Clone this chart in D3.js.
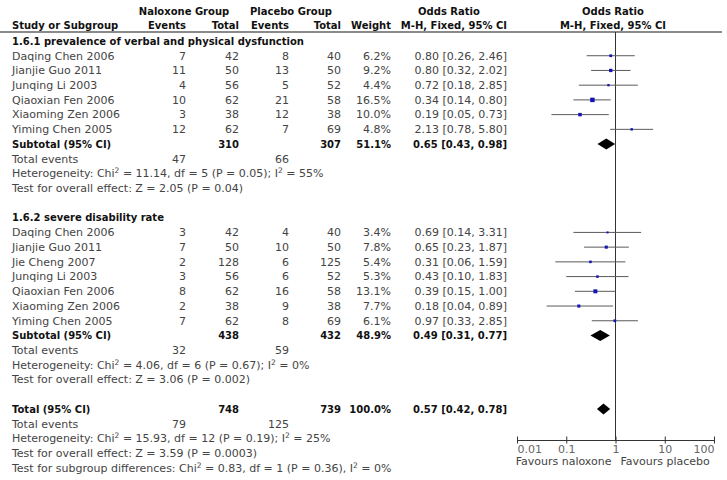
<!DOCTYPE html>
<html><head><meta charset="utf-8">
<script src="https://cdn.jsdelivr.net/npm/d3@7"></script>
<style>
body{margin:0;background:#fff;}
svg text{font-family:"DejaVu Sans",Verdana,sans-serif;font-size:11px;fill:#444;}
svg text.b{font-weight:bold;fill:#111;font-size:10px;}
svg .tick text{fill:#666;}
</style></head>
<body><svg id="c" width="727" height="480"></svg>
<script>
// ---- data ----
const g1Studies = ["Daqing Chen 2006","Jianjie Guo 2011","Junqing Li 2003","Qiaoxian Fen 2006","Xiaoming Zen 2006","Yiming Chen 2005"];
const g1EventsNal = [7,11,4,10,3,12];
const g1TotalNal = [42,50,56,62,38,62];
const g1EventsPla = [8,13,5,21,12,7];
const g1TotalPla = [40,50,52,58,38,69];
const g1Weight = [6.2,9.2,4.4,16.5,10.0,4.8];
const g1OR = [0.80,0.80,0.72,0.34,0.19,2.13];
const g1Lo = [0.26,0.32,0.18,0.14,0.05,0.78];
const g1Hi = [2.46,2.02,2.85,0.80,0.73,5.80];

const g2Studies = ["Daqing Chen 2006","Jianjie Guo 2011","Jie Cheng 2007","Junqing Li 2003","Qiaoxian Fen 2006","Xiaoming Zen 2006","Yiming Chen 2005"];
const g2EventsNal = [3,7,2,3,8,2,7];
const g2TotalNal = [42,50,128,56,62,38,62];
const g2EventsPla = [4,10,6,6,16,9,8];
const g2TotalPla = [40,50,125,52,58,38,69];
const g2Weight = [3.4,7.8,5.4,5.3,13.1,7.7,6.1];
const g2OR = [0.69,0.65,0.31,0.43,0.39,0.18,0.97];
const g2Lo = [0.14,0.23,0.06,0.10,0.15,0.04,0.33];
const g2Hi = [3.31,1.87,1.59,1.83,1.00,0.89,2.85];

const groupTitles = ["1.6.1 prevalence of verbal and physical dysfunction","1.6.2 severe disability rate"];
const subtotalTotalNal = [310,438];
const subtotalTotalPla = [307,432];
const subtotalWeight = [51.1,48.9];
const subtotalOR = [0.65,0.49];
const subtotalLo = [0.43,0.31];
const subtotalHi = [0.98,0.77];
const subtotalEventsNal = [47,32];
const subtotalEventsPla = [66,59];
const subtotalHet = [["11.14","5","0.05","55%"],["4.06","6","0.67","0%"]];
const subtotalTest = [["2.05","0.04"],["3.06","0.002"]];

const totalN = [748,739];
const totalWeight = 100.0;
const totalOR = [0.57,0.42,0.78];
const totalEvents = [79,125];
const totalHet = ["15.93","12","0.19","25%"];
const totalTest = ["3.59","0.0003"];
const subgroupDiff = ["0.83","1","0.36","0%"];

const axisTicks = [0.01,0.1,1,10,100];
const tickLabels = ["0.01","0.1","1","10","100"];
const favourLabels = ["Favours naloxone","Favours placebo"];

// ---- layout ----
const svg = d3.select("#c");
svg.append("rect").attr("width",727).attr("height",480).attr("fill","#fff");
const x = d3.scaleLog().domain([0.01,100]).range([517,714]);
const rowY = d3.scaleLinear().domain([0,29]).range([41,468]);
const col = {name:12, en:186, tn:239, ep:289, tp:341, w:391, ci:507};
const f2 = d3.format(".2f"), f1 = d3.format(".1f");
const BL = 3.8;

function txt(xp, yp, s, anchor, cls){
  const t = svg.append("text").attr("x",xp).attr("y",yp+BL).attr("text-anchor",anchor||"start");
  if(cls) t.attr("class",cls);
  t.text(s);
  return t;
}
function rich(xp, yp, parts){
  const t = svg.append("text").attr("x",xp).attr("y",yp+BL);
  parts.forEach(p=>{
    const ts=t.append("tspan").text(p[0]);
    if(p[1]) ts.attr("baseline-shift","super").attr("font-size","7.5px");
  });
}

// header
txt(184,11,"Naloxone Group","middle","b");
txt(291,11,"Placebo Group","middle","b");
txt(449,11,"Odds Ratio","middle","b");
txt(613,11,"Odds Ratio","middle","b");
txt(col.name,25,"Study or Subgroup","start","b");
txt(col.en,25,"Events","end","b");
txt(col.tn,25,"Total","end","b");
txt(col.ep,25,"Events","end","b");
txt(col.tp,25,"Total","end","b");
txt(col.w,25,"Weight","end","b");
txt(col.ci,25,"M-H, Fixed, 95% CI","end","b");
txt(613,25,"M-H, Fixed, 95% CI","middle","b");
svg.append("line").attr("x1",0).attr("x2",722).attr("y1",32).attr("y2",32)
  .attr("stroke","#8a8a8a").attr("stroke-width",2);

// reference line
svg.append("line").attr("x1",x(1)).attr("x2",x(1)).attr("y1",32).attr("y2",440)
  .attr("stroke","#333").attr("stroke-width",1);

function diamond(yc, or, lo, hi){
  const h=5.5;
  svg.append("path").attr("d",`M${x(lo)},${yc} L${x(or)},${yc-h} L${x(hi)},${yc} L${x(or)},${yc+h} Z`)
    .attr("fill","#000");
}

const groups = [
  {names:g1Studies,en:g1EventsNal,tn:g1TotalNal,ep:g1EventsPla,tp:g1TotalPla,w:g1Weight,or:g1OR,lo:g1Lo,hi:g1Hi,start:0},
  {names:g2Studies,en:g2EventsNal,tn:g2TotalNal,ep:g2EventsPla,tp:g2TotalPla,w:g2Weight,or:g2OR,lo:g2Lo,hi:g2Hi,start:12}
];
groups.forEach((g,gi)=>{
  txt(col.name,rowY(g.start),groupTitles[gi],"start","b");
  g.names.forEach((n,i)=>{
    const y=rowY(g.start+1+i);
    txt(col.name,y,n);
    txt(col.en,y,g.en[i],"end");
    txt(col.tn,y,g.tn[i],"end");
    txt(col.ep,y,g.ep[i],"end");
    txt(col.tp,y,g.tp[i],"end");
    txt(col.w,y,f1(g.w[i])+"%","end");
    txt(col.ci,y,`${f2(g.or[i])} [${f2(g.lo[i])}, ${f2(g.hi[i])}]`,"end");
    svg.append("line").attr("x1",x(g.lo[i])).attr("x2",x(g.hi[i])).attr("y1",y).attr("y2",y)
      .attr("stroke","#5a5a5a").attr("stroke-width",1);
    const s=Math.sqrt(g.w[i])*1.1;
    svg.append("rect").attr("x",x(g.or[i])-s/2).attr("y",y-s/2).attr("width",s).attr("height",s)
      .attr("fill","#1414b4");
  });
  const k=g.start+1+g.names.length;
  const ys=rowY(k);
  txt(col.name,ys,"Subtotal (95% CI)","start","b");
  txt(col.tn,ys,subtotalTotalNal[gi],"end","b");
  txt(col.tp,ys,subtotalTotalPla[gi],"end","b");
  txt(col.w,ys,f1(subtotalWeight[gi])+"%","end","b");
  txt(col.ci,ys,`${f2(subtotalOR[gi])} [${f2(subtotalLo[gi])}, ${f2(subtotalHi[gi])}]`,"end","b");
  diamond(ys,subtotalOR[gi],subtotalLo[gi],subtotalHi[gi]);
  const y1=rowY(k+1);
  txt(col.name,y1,"Total events");
  txt(col.en,y1,subtotalEventsNal[gi],"end");
  txt(col.ep,y1,subtotalEventsPla[gi],"end");
  const h=subtotalHet[gi];
  rich(col.name,rowY(k+2),[["Heterogeneity: Chi"],["2",1],[` = ${h[0]}, df = ${h[1]} (P = ${h[2]}); I`],["2",1],[` = ${h[3]}`]]);
  const t=subtotalTest[gi];
  txt(col.name,rowY(k+3),`Test for overall effect: Z = ${t[0]} (P = ${t[1]})`);
});

// total
const yt=rowY(25);
txt(col.name,yt,"Total (95% CI)","start","b");
txt(col.tn,yt,totalN[0],"end","b");
txt(col.tp,yt,totalN[1],"end","b");
txt(col.w,yt,f1(totalWeight)+"%","end","b");
txt(col.ci,yt,`${f2(totalOR[0])} [${f2(totalOR[1])}, ${f2(totalOR[2])}]`,"end","b");
diamond(yt,totalOR[0],totalOR[1],totalOR[2]);
txt(col.name,rowY(26),"Total events");
txt(col.en,rowY(26),totalEvents[0],"end");
txt(col.ep,rowY(26),totalEvents[1],"end");
rich(col.name,rowY(27),[["Heterogeneity: Chi"],["2",1],[` = ${totalHet[0]}, df = ${totalHet[1]} (P = ${totalHet[2]}); I`],["2",1],[` = ${totalHet[3]}`]]);
txt(col.name,rowY(28),`Test for overall effect: Z = ${totalTest[0]} (P = ${totalTest[1]})`);
rich(col.name,rowY(29),[["Test for subgroup differences: Chi"],["2",1],[` = ${subgroupDiff[0]}, df = ${subgroupDiff[1]} (P = ${subgroupDiff[2]}), I`],["2",1],[` = ${subgroupDiff[3]}`]]);

// axis
const ax = svg.append("g").attr("transform","translate(0,440)")
  .call(d3.axisBottom(x).tickValues(axisTicks).tickFormat((d,i)=>tickLabels[i]).tickSizeOuter(0).tickSizeInner(3.5).tickPadding(2));
ax.select(".domain").attr("stroke","#333");
ax.selectAll(".tick line").attr("y1",-3.5).attr("y2",3.5).attr("stroke","#333");
ax.selectAll(".tick text").attr("font-family",null).attr("font-size",null).attr("fill",null)
  .attr("y",5).attr("dy","0.71em")
  .attr("text-anchor",(d,i)=> i===0?"start":(i===axisTicks.length-1?"end":"middle"));
ax.attr("font-family",null).attr("font-size",null);
txt(x(1)-4,461,favourLabels[0],"end").attr("fill","#333");
txt(x(1)+5,461,favourLabels[1],"start").attr("fill","#333");
</script></body></html>
